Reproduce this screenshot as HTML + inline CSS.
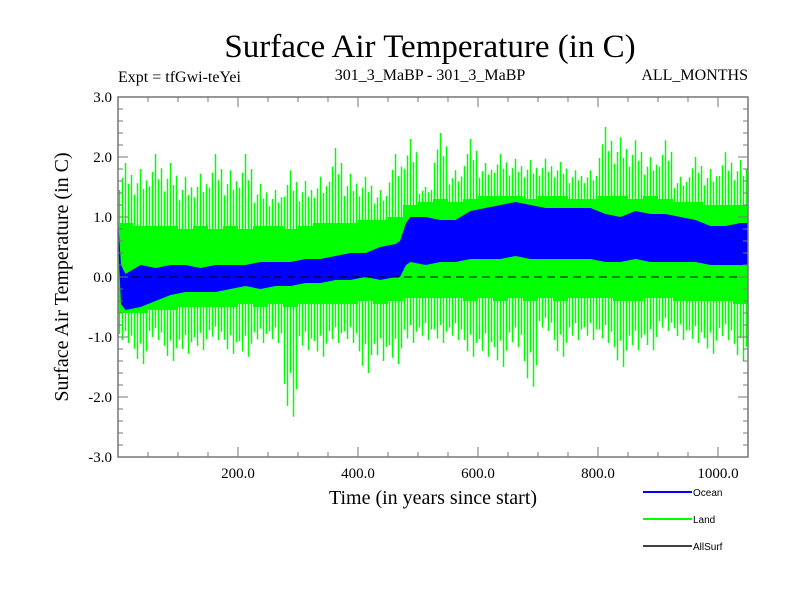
<!DOCTYPE html>
<html><head><meta charset="utf-8"><style>
body{margin:0;background:#fff}
svg text{font-family:"Liberation Serif",serif}
</style></head><body>
<svg id="c" width="800" height="600" xmlns="http://www.w3.org/2000/svg">
<text x="430" y="57" font-size="33" text-anchor="middle">Surface Air Temperature (in C)</text>
<text x="118" y="82" font-size="16">Expt = tfGwi-teYei</text>
<text x="430" y="80" font-size="16" text-anchor="middle">301_3_MaBP - 301_3_MaBP</text>
<text x="748" y="80" font-size="16" text-anchor="end">ALL_MONTHS</text>
<text transform="translate(68,277) rotate(-90)" font-size="20" text-anchor="middle">Surface Air Temperature (in C)</text>
<text x="433" y="504" font-size="20" text-anchor="middle">Time (in years since start)</text>
<g id="plot"></g>
<g id="axes"></g>
<g>
<line x1="643" y1="492" x2="692" y2="492" stroke="#0000ff" stroke-width="2"/>
<text x="693" y="496" font-size="10" style="font-family:'Liberation Sans',sans-serif">Ocean</text>
<line x1="643" y1="519" x2="692" y2="519" stroke="#00ff00" stroke-width="2"/>
<text x="693" y="523" font-size="10" style="font-family:'Liberation Sans',sans-serif">Land</text>
<line x1="643" y1="546" x2="692" y2="546" stroke="#000" stroke-width="1.5"/>
<text x="693" y="550" font-size="10" style="font-family:'Liberation Sans',sans-serif">AllSurf</text>
</g>
</svg>
<script>
const binStarts=[0,25,50,75,100,125,150,175,200,225,250,275,300,325,350,375,400,425,450,475,500,525,550,575,600,625,650,675,700,725,750,775,800,825,850,875,900,925,950,975,1000,1025];
const landSpikeHi=[1.9,1.8,2.05,1.9,1.67,1.72,2.05,1.78,2.05,1.55,1.45,1.78,1.6,1.67,2.15,1.72,1.67,1.45,2.05,2.3,1.5,2.4,1.78,2.3,1.9,2.05,1.97,1.95,1.97,1.92,1.78,1.78,2.5,2.33,2.28,2.0,2.28,1.67,2.0,1.8,2.08,1.95];
const landSpikeLo=[-1.1,-1.45,-1.05,-1.4,-1.28,-1.22,-1.05,-1.28,-1.33,-1.1,-1.1,-2.33,-1.22,-1.33,-1.1,-1.1,-1.6,-1.4,-1.45,-1.1,-1.05,-1.1,-1.05,-1.33,-1.33,-1.5,-1.17,-1.83,-0.9,-1.33,-1.05,-1.05,-1.1,-1.5,-1.22,-1.22,-0.9,-1.05,-1.1,-1.28,-1.05,-1.4];
const landCoreHi=[0.9,0.85,0.85,0.85,0.8,0.85,0.8,0.85,0.8,0.85,0.85,0.8,0.85,0.9,0.9,0.9,0.95,0.95,1.0,1.2,1.25,1.3,1.25,1.3,1.35,1.35,1.35,1.3,1.35,1.35,1.3,1.3,1.35,1.35,1.3,1.35,1.3,1.25,1.25,1.2,1.2,1.2];
const landCoreLo=[-0.6,-0.6,-0.55,-0.55,-0.5,-0.5,-0.5,-0.5,-0.45,-0.5,-0.45,-0.5,-0.45,-0.45,-0.45,-0.45,-0.4,-0.45,-0.4,-0.35,-0.35,-0.35,-0.35,-0.4,-0.35,-0.4,-0.35,-0.4,-0.35,-0.4,-0.35,-0.35,-0.35,-0.4,-0.4,-0.35,-0.35,-0.4,-0.4,-0.4,-0.4,-0.45];
const oceanYears=[0,5,12.5,37.5,62.5,87.5,112.5,137.5,162.5,187.5,212.5,237.5,262.5,287.5,312.5,337.5,362.5,387.5,412.5,437.5,462.5,470,480,487.5,512.5,537.5,562.5,587.5,612.5,637.5,662.5,687.5,712.5,737.5,762.5,787.5,812.5,837.5,862.5,887.5,912.5,937.5,962.5,987.5,1012.5,1037.5,1050];
const oceanHi=[1.0,0.2,0.05,0.2,0.15,0.2,0.2,0.15,0.2,0.2,0.2,0.25,0.25,0.25,0.3,0.3,0.35,0.4,0.4,0.5,0.55,0.6,0.9,1.0,1.0,0.95,0.95,1.1,1.15,1.2,1.25,1.2,1.15,1.15,1.15,1.15,1.05,1.0,1.1,1.05,1.05,1.0,0.95,0.85,0.85,0.9,0.9];
const oceanLo=[0.6,-0.45,-0.55,-0.5,-0.4,-0.3,-0.25,-0.25,-0.25,-0.2,-0.15,-0.2,-0.15,-0.15,-0.1,-0.1,-0.05,-0.05,0.0,-0.05,0.0,0.0,0.2,0.25,0.2,0.25,0.25,0.3,0.3,0.3,0.35,0.3,0.3,0.3,0.3,0.3,0.25,0.25,0.3,0.25,0.25,0.25,0.25,0.2,0.2,0.2,0.2];
const yTicks=[3.0,2.0,1.0,0.0,-1.0,-2.0,-3.0];
const yTickLabels=["3.0","2.0","1.0","0.0","-1.0","-2.0","-3.0"];
const xTicks=[200,400,600,800,1000];
const xTickLabels=["200.0","400.0","600.0","800.0","1000.0"];

const NS="http://www.w3.org/2000/svg";
const PL=118,PR=748,PT=97,PB=457,X0=0,X1=1050,Y0=-3,Y1=3;
const xs=v=>PL+(v-X0)/(X1-X0)*(PR-PL);
const ys=v=>PB-(v-Y0)/(Y1-Y0)*(PB-PT);
const plotG=document.getElementById('plot'),axesG=document.getElementById('axes');
function mk(tag,attrs,parent){const e=document.createElementNS(NS,tag);for(const k in attrs)e.setAttribute(k,attrs[k]);parent.appendChild(e);return e;}

let bandTop=[],bandBot=[];
binStarts.forEach((b,i)=>{const x0=xs(b),x1=xs(Math.min(b+25,X1));
 bandTop.push(x0+','+ys(landCoreHi[i]),x1+','+ys(landCoreHi[i]));
 bandBot.push(x0+','+ys(landCoreLo[i]),x1+','+ys(landCoreLo[i]));});
const land=mk('polygon',{points:bandTop.concat(bandBot.reverse()).join(' '),fill:'#00ff00'},plotG);


const fr=[0.1,0.3,0.5,0.7,0.9],sc=[0.55,0.75,1.0,0.65,0.8],scd=[0.7,0.9,0.6,1.0,0.75];
binStarts.forEach((b,i)=>{fr.forEach((f,j)=>{
 const x=xs(b+25*f);
 const hi=landCoreHi[i]+sc[j]*(landSpikeHi[i]-landCoreHi[i]);
 const lo=landCoreLo[i]+scd[j]*(landSpikeLo[i]-landCoreLo[i]);
 const s=mk('line',{x1:x,x2:x,y1:ys(hi),y2:ys(lo),stroke:'#00ff00','stroke-width':1.5},plotG);
 
 
});});
let ot=[],ob=[];
oceanYears.forEach((y,i)=>{ot.push(xs(y)+','+ys(oceanHi[i]));ob.push(xs(y)+','+ys(oceanLo[i]));});
const oc=mk('polygon',{points:ot.concat(ob.reverse()).join(' '),fill:'#0000ff'},plotG);


const z=mk('line',{x1:PL,x2:PR,y1:ys(0),y2:ys(0),stroke:'#000','stroke-dasharray':'8,5','stroke-width':1},plotG);



const frame=mk('rect',{x:PL,y:PT,width:PR-PL,height:PB-PT,fill:'none',stroke:'#777','stroke-width':1.5},axesG);


for(let k=0;k<=30;k++){const v=-3+k*0.2;const y=ys(v);const len=(k%5==0)?10:5;
 mk('line',{x1:PL,x2:PL+len,y1:y,y2:y,stroke:'#777'},axesG);mk('line',{x1:PR,x2:PR-len,y1:y,y2:y,stroke:'#777'},axesG);}
for(let v=50;v<X1;v+=50){const x=xs(v);const len=v%200==0?10:5;
 mk('line',{x1:x,x2:x,y1:PB,y2:PB-len,stroke:'#777'},axesG);mk('line',{x1:x,x2:x,y1:PT,y2:PT+len,stroke:'#777'},axesG);}
yTicks.forEach((v,i)=>{const t=mk('text',{x:112,y:ys(v)+5,'font-size':15,'text-anchor':'end'},axesG);t.textContent=yTickLabels[i];
 
 });
xTicks.forEach((v,i)=>{const t=mk('text',{x:xs(v),y:478,'font-size':15,'text-anchor':'middle'},axesG);t.textContent=xTickLabels[i];
 
 });
</script>
</body></html>
